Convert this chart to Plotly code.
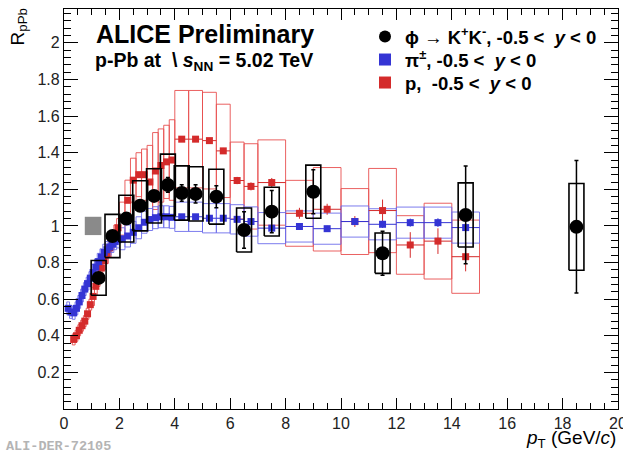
import plotly.graph_objects as go

# ---------------- data ----------------
# phi -> K+K- nuclear modification factor
phi_pt = [1.25, 1.75, 2.25, 2.75, 3.25, 3.75, 4.25, 4.75, 5.5, 6.5, 7.5, 9.0, 11.5, 14.5, 18.5]
phi_r = [0.716, 0.945, 1.04, 1.11, 1.164, 1.224, 1.18, 1.175, 1.16, 0.978, 1.078, 1.187, 0.851, 1.06, 0.995]
phi_stat = [0.01, 0.012, 0.012, 0.015, 0.02, 0.04, 0.045, 0.05, 0.06, 0.10, 0.115, 0.12, 0.12, 0.267, 0.362]
phi_sys = [0.095, 0.118, 0.128, 0.137, 0.148, 0.168, 0.148, 0.148, 0.15, 0.12, 0.133, 0.145, 0.11, 0.175, 0.237]

# charged pions
pi_edges = [0.1, 0.2, 0.3, 0.4, 0.5, 0.6, 0.7, 0.8, 0.9, 1.0, 1.1, 1.2, 1.3, 1.4, 1.5, 1.6, 1.7, 1.8, 1.9, 2.0,
            2.2, 2.4, 2.6, 2.8, 3.0, 3.2, 3.4, 3.6, 3.8, 4.0, 4.5, 5.0, 5.5, 6.0, 6.5, 7.0,
            8.0, 9.0, 10.0, 11.0, 12.0, 13.0, 14.0, 15.0]
pi_r = [0.55, 0.53, 0.525, 0.55, 0.585, 0.62, 0.655, 0.685, 0.715, 0.745, 0.775, 0.805, 0.83, 0.855,
        0.87, 0.885, 0.90, 0.915, 0.925,
        0.93, 0.945, 0.965, 0.99, 1.02, 1.035, 1.045, 1.05, 1.05, 1.047,
        1.05, 1.05, 1.042, 1.042, 1.036, 1.024,
        0.988, 0.997, 0.985, 1.024, 1.009, 1.018, 1.018, 0.991]
pi_stat = [0.003] * 19 + [0.004] * 10 + [0.006, 0.006, 0.008, 0.008, 0.01, 0.01,
                                          0.012, 0.014, 0.016, 0.018, 0.02, 0.022, 0.024, 0.026]
pi_sys = [0.035] * 9 + [0.045] * 10 + [0.06] * 10 + [0.08] * 6 + [0.085] * 8

# protons
p_edges = [0.3, 0.4, 0.5, 0.6, 0.7, 0.8, 0.9, 1.0, 1.1, 1.2, 1.3, 1.4, 1.5, 1.6, 1.7, 1.8, 1.9, 2.0,
           2.2, 2.4, 2.6, 2.8, 3.0, 3.2, 3.4, 3.6, 3.8, 4.0, 4.5, 5.0, 5.5, 6.0, 6.5, 7.0,
           8.0, 9.0, 10.0, 11.0, 12.0, 13.0, 14.0, 15.0]
p_r = [0.38, 0.40, 0.43, 0.455, 0.48, 0.52, 0.57, 0.615, 0.67, 0.72, 0.77, 0.81, 0.845, 0.88, 0.92, 0.955, 0.99,
       1.04, 1.14, 1.25, 1.28, 1.28, 1.24, 1.30, 1.33, 1.35, 1.36,
       1.474, 1.474, 1.466, 1.41, 1.248, 1.216,
       1.237, 1.069, 1.091, 1.024, 1.084, 0.896, 0.917, 0.832]
p_stat = [0.004] * 17 + [0.008] * 10 + [0.01, 0.012, 0.014, 0.016, 0.02, 0.022,
                                         0.025, 0.03, 0.03, 0.03, 0.06, 0.07, 0.07, 0.08]
p_sys = [0.03] * 7 + [0.05] * 10 + [0.09, 0.11, 0.12, 0.12, 0.14, 0.20, 0.21, 0.20, 0.20, 0.22,
                                    0.266, 0.266, 0.264, 0.255, 0.21, 0.233,
                                    0.233, 0.18, 0.228, 0.18, 0.23, 0.16, 0.207, 0.20]

# global normalisation uncertainty
norm_pt = [0.75, 1.35]
norm_r = [0.95, 1.05]

# ---------------- styling ----------------
RED = "#d42b2b"
RED_BOX = "rgba(232,80,80,0.9)"
BLUE = "#3434d4"
BLUE_BOX = "rgba(110,110,235,0.9)"
FONT = "Liberation Sans"
PHI_BOX_HALF = 0.27


def centers(edges):
    return [(a + b) / 2 for a, b in zip(edges[:-1], edges[1:])]


def halfwidths(edges):
    return [(b - a) / 2 for a, b in zip(edges[:-1], edges[1:])]


def boxes(x0s, x1s, ylo, yhi):
    xs, ys = [], []
    for a, b, lo, hi in zip(x0s, x1s, ylo, yhi):
        xs += [a, b, b, a, a, None]
        ys += [lo, lo, hi, hi, lo, None]
    return xs, ys


fig = go.Figure()

# normalisation box
fig.add_trace(go.Scatter(
    x=[norm_pt[0], norm_pt[1], norm_pt[1], norm_pt[0], norm_pt[0]],
    y=[norm_r[0], norm_r[0], norm_r[1], norm_r[1], norm_r[0]],
    mode="lines", fill="toself", fillcolor="rgb(138,138,138)",
    line=dict(width=0, color="rgb(138,138,138)"), showlegend=False, hoverinfo="skip"))

# systematic boxes: protons, pions
p_c = centers(p_edges)
p_hw = halfwidths(p_edges)
bx, by = boxes(p_edges[:-1], p_edges[1:],
               [r - s for r, s in zip(p_r, p_sys)], [r + s for r, s in zip(p_r, p_sys)])
fig.add_trace(go.Scatter(x=bx, y=by, mode="lines", line=dict(color=RED_BOX, width=1),
                         showlegend=False, hoverinfo="skip"))

pi_c = centers(pi_edges)
pi_hw = halfwidths(pi_edges)
bx, by = boxes(pi_edges[:-1], pi_edges[1:],
               [r - s for r, s in zip(pi_r, pi_sys)], [r + s for r, s in zip(pi_r, pi_sys)])
fig.add_trace(go.Scatter(x=bx, y=by, mode="lines", line=dict(color=BLUE_BOX, width=1),
                         showlegend=False, hoverinfo="skip"))

# proton and pion points
fig.add_trace(go.Scatter(
    x=p_c, y=p_r, mode="markers", name="<b>p,  -0.5 &lt;  <i>y</i> &lt; 0</b>", legend="legend3",
    marker=dict(symbol="square", size=7, color=RED),
    error_x=dict(type="data", array=p_hw, color=RED, thickness=1, width=0),
    error_y=dict(type="data", array=p_stat, color=RED, thickness=1, width=0)))
fig.add_trace(go.Scatter(
    x=pi_c, y=pi_r, mode="markers", name="<b>π<sup>±</sup>, -0.5 &lt;  <i>y</i> &lt; 0</b>", legend="legend2",
    marker=dict(symbol="square", size=7, color=BLUE),
    error_x=dict(type="data", array=pi_hw, color=BLUE, thickness=1, width=0),
    error_y=dict(type="data", array=pi_stat, color=BLUE, thickness=1, width=0)))

# phi systematic boxes and points
bx, by = boxes([x - PHI_BOX_HALF for x in phi_pt], [x + PHI_BOX_HALF for x in phi_pt],
               [r - s for r, s in zip(phi_r, phi_sys)], [r + s for r, s in zip(phi_r, phi_sys)])
fig.add_trace(go.Scatter(x=bx, y=by, mode="lines", line=dict(color="black", width=1.6),
                         showlegend=False, hoverinfo="skip"))
fig.add_trace(go.Scatter(
    x=phi_pt, y=phi_r, mode="markers",
    name="<b>ϕ → K<sup>+</sup>K<sup>-</sup>, -0.5 &lt;  <i>y</i> &lt; 0</b>", legend="legend",
    marker=dict(symbol="circle", size=14, color="black"),
    error_y=dict(type="data", array=phi_stat, color="black", thickness=1.5, width=2)))

L, R, T, B = 64, 5, 9, 44
W, H = 623, 453
pw, ph = W - L - R, H - T - B


def px(x):
    return (x - L) / pw


def py(y):
    return (H - B - y) / ph


annotations = [
    dict(text="<b>ALICE Preliminary</b>", x=px(94), y=py(34), xanchor="left", yanchor="middle",
         font=dict(family=FONT, size=25, color="black")),
    dict(text="<b>p-Pb at  \\ <i>s</i><sub>NN</sub> = 5.02 TeV</b>", x=px(93), y=py(61),
         xanchor="left", yanchor="middle", font=dict(family=FONT, size=19.5, color="black")),
    dict(text="R<sub>pPb</sub>", x=px(18), y=py(7), xanchor="center", yanchor="top", textangle=-90,
         font=dict(family=FONT, size=19, color="black")),
    dict(text="<i>p</i><sub>T</sub> (GeV/<i>c</i>)", x=1.0, y=py(439), xanchor="right", yanchor="middle",
         font=dict(family=FONT, size=19, color="black")),
    dict(text="<b>ALI-DER-72105</b>", x=px(4), y=py(446), xanchor="left", yanchor="middle",
         font=dict(family="Liberation Mono", size=13.5, color="#b4b4b4")),
]
for a in annotations:
    a.update(xref="paper", yref="paper", showarrow=False)

axis_common = dict(showline=True, linecolor="black", linewidth=1.2, mirror="allticks",
                   ticks="inside", tickcolor="black", showgrid=False, zeroline=False,
                   ticklabeloverflow="allow", automargin=False,
                   tickfont=dict(family=FONT, size=16, color="#222"))


def legend_box(row_y):
    return dict(x=px(365), y=py(row_y), xanchor="left", yanchor="middle", bgcolor="rgba(0,0,0,0)",
                font=dict(family=FONT, size=18.5, color="black"), itemsizing="constant")


fig.update_layout(
    width=W, height=H, margin=dict(l=L, r=R, t=T, b=B, autoexpand=False),
    paper_bgcolor="white", plot_bgcolor="white",
    xaxis=dict(range=[0, 20], tickmode="linear", tick0=0, dtick=2, ticklen=11, tickwidth=1,
               minor=dict(tickmode="linear", tick0=0, dtick=0.5, ticklen=6, ticks="inside", tickcolor="black"),
               **axis_common),
    yaxis=dict(range=[0, 2.185], tickmode="array",
               tickvals=[0.2, 0.4, 0.6, 0.8, 1.0, 1.2, 1.4, 1.6, 1.8, 2.0],
               ticktext=["0.2", "0.4", "0.6", "0.8", "1", "1.2", "1.4", "1.6", "1.8", "2"],
               ticklen=14, tickwidth=1,
               minor=dict(tickmode="linear", tick0=0, dtick=0.04, ticklen=7, ticks="inside", tickcolor="black"),
               **axis_common),
    legend=legend_box(37),
    legend2=legend_box(60),
    legend3=legend_box(83),
    annotations=annotations,
    showlegend=True,
)

fig.write_html("out.html")
